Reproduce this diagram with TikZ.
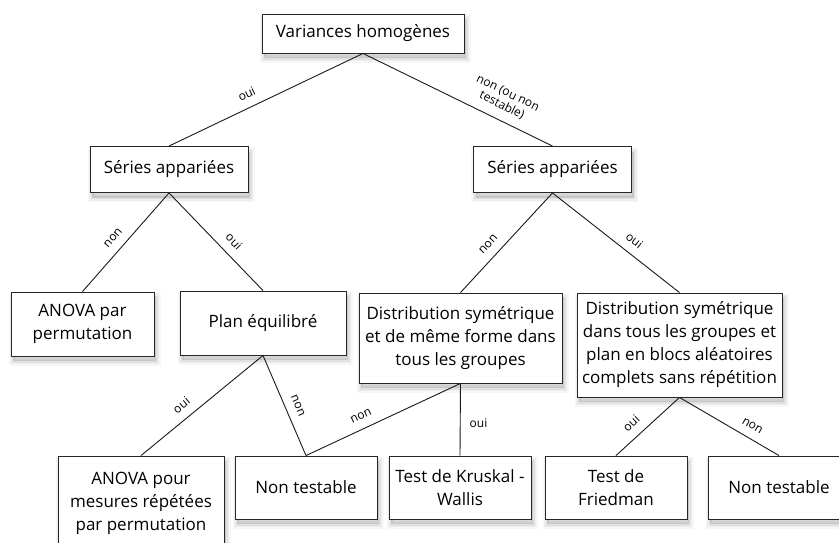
\documentclass[tikz,border=0pt]{standalone}
\usepackage{fontspec}
\setmainfont{Open Sans}
\begin{document}
\begin{tikzpicture}[x=1pt,y=-1pt,
  fuzzy/.style={
    preaction={draw=black,line width=9pt,opacity=0.03,transform canvas={xshift=2pt,yshift=-5pt}},
    preaction={draw=black,line width=6pt,opacity=0.04,transform canvas={xshift=2pt,yshift=-5pt}},
    preaction={draw=black,line width=3pt,opacity=0.05,transform canvas={xshift=2pt,yshift=-5pt}},
    preaction={fill=black,opacity=0.12,transform canvas={xshift=2pt,yshift=-5pt}}},
  box/.style={draw=black!85,line width=0.9pt,fill=white,align=center,inner sep=0pt,
    font=\fontsize{17}{23}\selectfont,fuzzy},
  edge/.style={draw=black!90,line width=0.9pt},
  lbl/.style={font=\fontsize{12}{13.5}\selectfont,sloped,above,inner xsep=2pt,inner ysep=8.5pt,align=center}]
\useasboundingbox (0,0) rectangle (839,542);
\clip (0,0) rectangle (839,542);
% nodes
\node[box,minimum width=202pt,minimum height=39pt] (root) at (363,33.5) {Variances homogènes};
\node[box,minimum width=158pt,minimum height=46pt] (LS) at (169,169.5) {Séries appariées};
\node[box,minimum width=158pt,minimum height=46pt] (RS) at (552.5,169.5) {Séries appariées};
\node[box,minimum width=143pt,minimum height=64pt] (AP) at (82.5,324) {ANOVA par\\permutation};
\node[box,minimum width=166pt,minimum height=64pt] (PE) at (263,323) {Plan équilibré};
\node[box,minimum width=203pt,minimum height=90pt] (DA) at (460.5,338) {Distribution symétrique\\et de même forme dans\\tous les groupes};
\node[box,minimum width=205pt,minimum height=104pt] (DB) at (679.5,345) {Distribution symétrique\\dans tous les groupes et\\plan en blocs aléatoires\\complets sans répétition};
\node[box,minimum width=166pt,minimum height=94pt] (AM) at (141,503) {ANOVA pour\\mesures répétées\\par permutation};
\node[box,minimum width=142pt,minimum height=63pt] (NT1) at (306,487.5) {Non testable};
\node[box,minimum width=142pt,minimum height=63pt] (KW) at (460,487.5) {Test de Kruskal -\\Wallis};
\node[box,minimum width=142pt,minimum height=63pt] (FR) at (616,487.5) {Test de\\Friedman};
\node[box,minimum width=142pt,minimum height=63pt] (NT2) at (779,487.5) {Non testable};
% edges
\draw[edge] (root.south) -- node[lbl,pos=0.57]{oui} (LS.north);
\draw[edge] (root.south) -- node[lbl,pos=0.70]{non (ou non\\testable)} (RS.north);
\draw[edge] (LS.south) -- node[lbl,pos=0.54]{non} (AP.north);
\draw[edge] (LS.south) -- node[lbl,pos=0.59]{oui} (PE.north);
\draw[edge] (RS.south) -- node[lbl,pos=0.60]{non} (DA.north);
\draw[edge] (RS.south) -- node[lbl,pos=0.58]{oui} (DB.north);
\draw[edge] (PE.south) -- node[lbl,pos=0.60]{oui} (AM.north);
\draw[edge] (PE.south) -- node[lbl,pos=0.55]{non} (NT1.north);
\draw[edge] (DA.south) -- node[lbl,pos=0.61]{non} (NT1.north);
\draw[edge] (DA.south) -- node[font=\fontsize{12}{13.5}\selectfont,right,pos=0.55,inner sep=9pt]{oui} (KW.north);
\draw[edge] (DB.south) -- node[lbl,pos=0.62]{oui} (FR.north);
\draw[edge] (DB.south) -- node[lbl,pos=0.67]{non} (NT2.north);
\end{tikzpicture}
\end{document}
